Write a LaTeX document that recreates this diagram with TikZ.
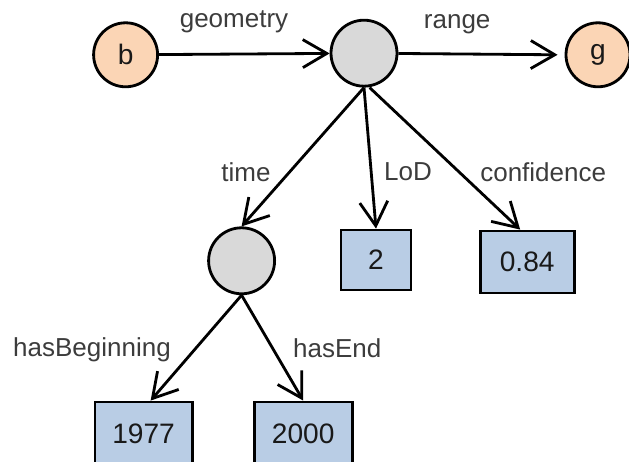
\documentclass[tikz,border=0pt]{standalone}
\usepackage{fontspec}
\setmainfont{Liberation Sans}
\usepackage{tikz}
\usetikzlibrary{arrows.meta,positioning}
\definecolor{peachfill}{RGB}{251,213,181}
\definecolor{hubgray}{RGB}{217,217,217}
\definecolor{valblue}{RGB}{185,205,229}
\definecolor{labelgray}{RGB}{60,60,60}

\begin{document}
\begin{tikzpicture}[
        line width=2pt,
        every node/.style={font=\fontsize{20}{22}\selectfont, text=black!90},
        res/.style={circle, draw, fill=peachfill, minimum size=1.6cm, inner sep=0pt},
        hub/.style={circle, draw, fill=hubgray, minimum size=1.65cm, inner sep=0pt},
        val/.style={rectangle, draw, fill=valblue, minimum height=1.5cm, inner sep=0pt},
        prop/.style={font=\fontsize{18.5}{20}\selectfont, text=labelgray},
        link/.style={-{Straight Barb[length=6mm,width=7mm]}}
    ]
        \useasboundingbox (0,0) rectangle (15.725,11.55);

        % Resources and blank nodes
        \node[res] (b) at (3.14, 10.18) {b};
        \node[hub] (geo) at (9.1, 10.22) {};
        \node[res] (g) at (14.95, 10.18) {g};
        \node[hub] (span) at (6.04, 5.03) {};

        % Literal values
        \node[val, minimum width=1.75cm] (lod) at (9.4, 5.05) {2};
        \node[val, minimum width=2.35cm, minimum height=1.55cm] (conf) at (13.18, 5.0) {0.84};
        \node[val, minimum width=2.43cm, minimum height=1.6cm] (begin) at (3.59, 0.7) {1977};
        \node[val, minimum width=2.45cm, minimum height=1.6cm] (end) at (7.58, 0.7) {2000};

        % Property labels
        \node[prop] (lgeometry) at (5.85, 11.0) {geometry};
        \node[prop] (lrange) at (11.43, 10.95) {range};
        \node[prop] (ltime) at (6.15, 7.25) {time};
        \node[prop] (llod) at (10.2, 7.25) {LoD};
        \node[prop] (lconf) at (13.58, 7.25) {confidence};
        \node[prop] (lbegin) at (2.3, 2.8) {hasBeginning};
        \node[prop] (lend) at (8.43, 2.85) {hasEnd};

        % Edges
        \draw[link] (b) -- (geo);
        \draw[link] (geo) -- ([xshift=-5pt]g.west);
        \draw[link] (geo.south) -- (span.north);
        \draw[link] (geo.south) -- (lod.north);
        \draw[link] ([xshift=4pt]geo.south) -- ([xshift=-5pt]conf.north);
        \draw[link] (span.south) -- ([xshift=5pt]begin.north);
        \draw[link] (span.south) -- (end.north);
    \end{tikzpicture}
\end{document}
